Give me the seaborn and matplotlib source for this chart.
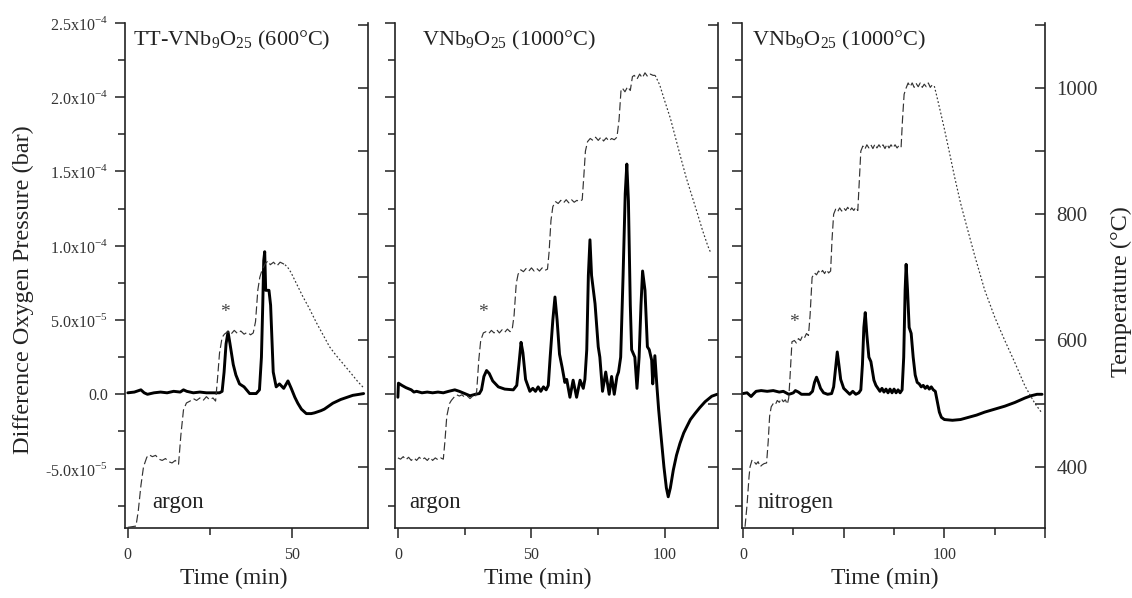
import numpy as np
import seaborn as sns
import matplotlib.pyplot as plt
from matplotlib.ticker import FixedLocator

# ---- data (pressure in units of 1e-5 bar, temperature in degC, time in min) ----
# panel 1: TT-VNb9O25 (600C), argon
t_p1 = [0, 2, 4, 5, 6, 8, 10, 12, 14, 16, 17, 18, 20, 22, 24, 26, 28, 28.8, 29.4, 30, 30.6, 31.2,
        32.2, 33, 34.1, 35.5, 37.2, 39.2, 40.2, 40.8, 41.2, 41.5, 41.8, 42.1, 43.1, 43.6, 44.4, 45.3,
        46.3, 47.6, 48.9, 49.9, 51, 51.9, 53, 54.5, 56, 57, 59, 60, 62.6, 65, 68.7, 70.7, 72]
p_p1 = [0.1, 0.15, 0.3, 0.1, 0.0, 0.1, 0.15, 0.1, 0.2, 0.15, 0.3, 0.2, 0.1, 0.15, 0.1, 0.1, 0.1, 0.2,
        1.5, 3.4, 4.2, 3.4, 2.0, 1.3, 0.7, 0.5, 0.05, 0.05, 0.3, 2.5, 6.0, 9.0, 9.6, 7.0, 7.0, 6.0,
        1.5, 0.5, 0.7, 0.4, 0.9, 0.4, -0.2, -0.6, -1.0, -1.3, -1.3, -1.25, -1.1, -1.0, -0.6, -0.35,
        -0.07, 0.0, 0.05]
t_h1 = [0, 2.5, 3.2, 4, 4.8, 5.8, 6.5, 7.5, 8.5, 9.5, 10.5, 11.5, 12.5, 13.5, 14.5, 15.5, 16.2, 17,
        17.9, 19, 20, 21, 22, 23, 24, 25, 26, 26.8, 27.4, 28, 28.8, 29.5, 30.5, 31.5, 32.5, 33.5,
        34.5, 35.5, 36.5, 37.5, 38.3, 39, 39.7, 40.3, 41, 42, 42.8, 43.5, 44.5, 45.5, 46.5, 47.3, 48]
T_h1 = [304, 306, 330, 370, 400, 415, 419, 416, 418, 412, 410, 413, 408, 406, 410, 404, 450, 490,
        501, 504, 508, 505, 509, 505, 511, 506, 509, 504, 540, 580, 605, 610, 614, 610, 616, 611,
        615, 610, 613, 609, 612, 630, 680, 700, 712, 722, 726, 720, 724, 718, 724, 722, 720]
t_c1 = [48, 48.8, 49.8, 51.5, 53.4, 55.5, 57.5, 59.5, 61.6, 63.5, 65.6, 68, 70.2, 72]
T_c1 = [720, 716, 708, 690, 670, 650, 629, 610, 590, 577, 564, 549, 535, 525]

# panel 2: VNb9O25 (1000C), argon
t_p2 = [0, 0.2, 1.5, 3, 5, 6, 7, 9, 11, 13, 15, 17, 19, 21.3, 23, 25, 27, 29, 30.5, 31.3, 32.2,
        33.2, 34.2, 35.5, 37.6, 40, 43.2, 44.5, 45.3, 46.1, 46.8, 47.8, 49.4, 50.5, 51.5, 52.5, 53.5,
        54.5, 55.5, 56.3, 57, 58, 58.8, 59.6, 60.5, 61.5, 62.5, 63.2, 64.4, 65.6, 66.9, 68.2, 69.4,
        70, 70.7, 71.3, 71.9, 72.5, 73.8, 75, 75.6, 76.6, 77.8, 79.1, 80, 81, 82, 82.6, 83.4, 84.3,
        85.1, 85.7, 86.3, 87, 87.5, 88.7, 89.5, 90.3, 91, 91.6, 92.5, 93.4, 94.1, 95, 95.4, 96.2,
        96.9, 97.6, 98.4, 99.6, 100.5, 101.2, 102, 103.1, 104.3, 105.6, 107, 108.1, 109.5, 111.2,
        113, 115, 117.5, 119.5]
p_p2 = [-0.2, 0.75, 0.6, 0.45, 0.3, 0.15, 0.2, 0.1, 0.15, 0.1, 0.15, 0.1, 0.2, 0.3, 0.2, 0.05, -0.1,
        0.0, 0.05, 0.3, 1.2, 1.6, 1.4, 0.9, 0.5, 0.35, 0.3, 0.6, 2.0, 3.5, 2.8, 1.0, 0.2, 0.4, 0.2,
        0.5, 0.2, 0.5, 0.3, 0.6, 2.5, 5.0, 6.55, 5.0, 2.7, 1.8, 0.8, 1.0, -0.2, 0.95, -0.2, 0.95,
        0.4, 1.0, 3.0, 8.0, 10.4, 8.0, 6.1, 3.2, 2.5, 0.2, 1.5, 0.0, 1.2, 0.0, 1.2, 1.5, 2.5, 8.0,
        13.5, 15.5, 13.0, 6.0, 3.0, 2.5, 0.4, 2.5, 6.0, 8.3, 7.0, 3.2, 3.0, 2.3, 0.7, 2.6, 0.7,
        -1.0, -2.6, -4.9, -6.3, -6.9, -6.3, -5.1, -4.1, -3.3, -2.6, -2.2, -1.7, -1.3, -0.9, -0.5,
        -0.13, 0.0]
t_h2 = [0, 1, 2, 3, 4, 5, 6, 7, 8, 9, 10, 11, 12, 13, 14, 15, 16, 17, 17.6, 18.3, 19.3, 20, 21, 22,
        23, 24, 25, 26, 27, 28, 29, 29.5, 30.3, 31, 32, 33, 34, 35, 36, 37, 38, 39, 40, 41, 42, 42.8,
        43.5, 44.3, 45, 46, 47, 48, 49, 50, 51, 52, 53, 54, 55, 56, 56.6, 57.3, 58, 59, 60, 61, 62,
        63, 64, 65, 66, 67, 68, 69, 69.6, 70.2, 71, 72, 73, 74, 75, 76, 77, 78, 79, 80, 81, 82, 82.8,
        83.5, 84, 85, 86, 87, 87.8, 88.5, 89.5, 90.5, 91.5, 92.5, 93.5, 94.5, 95.5, 96.3]
T_h2 = [414, 412, 416, 411, 415, 410, 414, 410, 415, 411, 414, 410, 415, 410, 414, 411, 414, 412,
        440, 480, 500, 505, 510, 514, 512, 514, 510, 512, 508, 512, 510, 520, 570, 600, 612, 614,
        611, 616, 612, 617, 612, 617, 613, 618, 614, 618, 640, 690, 705, 712, 709, 714, 710, 715,
        710, 714, 710, 715, 711, 713, 740, 790, 812, 820, 817, 822, 818, 823, 818, 823, 819, 822,
        820, 823, 860, 900, 915, 920, 917, 922, 917, 922, 916, 921, 916, 920, 918, 922, 950, 995,
        1000, 994, 1002, 996, 1018, 1020, 1014, 1022, 1016, 1024, 1018, 1022, 1020, 1020]
t_c2 = [96.3, 98, 100, 102, 104, 106, 108, 110, 112, 114, 116, 117]
T_c2 = [1020, 1005, 978, 952, 920, 888, 857, 830, 803, 775, 750, 740]

# panel 3: VNb9O25 (1000C), nitrogen
t_p3 = [0, 2, 4, 5, 6.5, 9, 12, 15, 18, 20, 22.7, 24, 25, 26, 27.5, 29, 33, 34.5, 35.5, 36.5, 37.5,
        38.5, 40, 42, 44, 45, 46, 46.8, 47.6, 48.5, 50, 51.5, 53, 54.5, 56, 57.5, 58.5, 59.3, 60,
        60.7, 61.5, 62.5, 63.5, 65, 66, 67, 68, 69, 70, 71, 72, 73, 74, 75, 76, 77, 78, 79, 79.8,
        80.5, 81, 81.7, 82.5, 83.5, 84.5, 85.5, 86.5, 87.5, 88.5, 89.5, 90.5, 91.5, 92.5, 93.5, 94.5,
        95.5, 96.5, 97.5, 98.5, 100, 104, 108, 112, 116, 120, 125, 130, 135, 140, 143, 146, 148.5]
p_p3 = [0.05, 0.1, -0.15, 0.0, 0.2, 0.25, 0.2, 0.25, 0.15, 0.2, 0.0, 0.05, 0.1, 0.25, 0.15, 0.0,
        0.0, 0.2, 0.8, 1.15, 0.8, 0.4, 0.1, 0.0, 0.05, 0.5, 1.8, 2.85, 2.0, 1.0, 0.4, 0.2, 0.0, 0.2,
        0.0, 0.1, 0.3, 2.0, 4.5, 5.5, 4.0, 2.5, 2.2, 0.95, 0.6, 0.4, 0.2, 0.4, 0.15, 0.35, 0.1,
        0.35, 0.1, 0.35, 0.1, 0.3, 0.1, 0.3, 2.5, 7.0, 8.75, 7.0, 4.5, 4.1, 2.5, 1.3, 0.8, 0.7, 0.5,
        0.6, 0.4, 0.55, 0.35, 0.5, 0.3, 0.2, -0.5, -1.2, -1.55, -1.7, -1.75, -1.7, -1.55, -1.4,
        -1.2, -1.0, -0.8, -0.55, -0.25, -0.1, 0.0, 0.0]
t_h3 = [1, 2, 3, 3.5, 4.5, 5.5, 6.5, 7.5, 8.5, 9.5, 10.5, 11.7, 12.5, 13.2, 14, 15, 16, 17, 18, 19,
        20, 21, 22, 22.7, 23.3, 24.3, 25.5, 26.5, 27.5, 28.5, 29.5, 30.5, 31.5, 32.5, 33.3, 34.3,
        35.5, 36.5, 37.5, 38.5, 39.5, 40.5, 41.5, 42.5, 43.5, 44.2, 45, 46, 47, 48, 49, 50, 51, 52,
        53, 54, 55, 56, 57, 57.7, 58.5, 59.5, 60.5, 61.5, 62.5, 63.5, 64.5, 65.5, 66.5, 67.5, 68.5,
        69.5, 70.5, 71.5, 72.5, 73.5, 74.5, 75.5, 76.5, 77.5, 78.5, 79.2, 80, 81, 82, 83, 84, 85,
        86, 87, 88, 89, 90, 91, 92, 93, 94, 95]
T_h3 = [305, 340, 385, 400, 411, 408, 404, 408, 400, 403, 405, 406, 440, 480, 495, 500, 498, 505,
        502, 508, 503, 506, 499, 509, 540, 598, 600, 596, 603, 600, 607, 604, 611, 608, 640, 700,
        707, 704, 710, 706, 711, 706, 712, 707, 710, 760, 800, 808, 804, 810, 805, 810, 806, 811,
        805, 810, 806, 811, 806, 850, 900, 908, 903, 910, 905, 910, 904, 911, 905, 910, 905, 910,
        904, 911, 905, 910, 905, 910, 905, 909, 906, 950, 990, 1000, 1008, 1002, 1008, 1001, 1007,
        1002, 1008, 1001, 1006, 1002, 1008, 1001, 1005, 1003]
t_c3 = [95, 96, 98, 100, 102.5, 105, 108, 111, 115, 120, 125, 130, 135, 140, 145, 148]
T_c3 = [1003, 990, 963, 935, 898, 860, 818, 782, 735, 680, 637, 600, 565, 528, 500, 487]

titles = ['TT-VNb$_\\mathregular{9}$O$_\\mathregular{25}$ (600°C)',
          'VNb$_\\mathregular{9}$O$_\\mathregular{25}$ (1000°C)',
          'VNb$_\\mathregular{9}$O$_\\mathregular{25}$ (1000°C)']
gases = ['argon', 'argon', 'nitrogen']
star_pos = [(29.6, 5.5), (31.8, 5.5), (25.5, 4.85)]

p_ticks = [-5, 0, 5, 10, 15, 20, 25]
p_ticklabels = ['-5.0x10$^{\\mathregular{-5}}$', '0.0', '5.0x10$^{\\mathregular{-5}}$',
                '1.0x10$^{\\mathregular{-4}}$', '1.5x10$^{\\mathregular{-4}}$',
                '2.0x10$^{\\mathregular{-4}}$', '2.5x10$^{\\mathregular{-4}}$']
T_ticks = [400, 600, 800, 1000]

sns.set_style('ticks')
plt.rcParams['font.family'] = ['Liberation Serif', 'DejaVu Serif']
plt.rcParams['mathtext.fontset'] = 'custom'
plt.rcParams['mathtext.rm'] = 'Liberation Serif'

fig = plt.figure(figsize=(11.32, 5.98), dpi=100)

panels = [
    (t_p1, p_p1, t_h1, T_h1, t_c1, T_c1, (-1, 73.2), [0, 50], [25], [0.110, 0.2147], 0.115, 0.033),
    (t_p2, p_p2, t_h2, T_h2, t_c2, T_c2, (-1.1, 119.8), [0, 50, 100], [25, 75], [0.3489, 0.2853], 0.043, 0.084),
    (t_p3, p_p3, t_h3, T_h3, t_c3, T_c3, (-0.5, 150), [0, 50, 100, 150], [25, 75, 125], [0.6555, 0.2677], 0.05, 0.033),
]

for i, (tp, pp, th, Th, tc, Tc, xl, xmaj, xmin, pos, gx, tx) in enumerate(panels):
    ax = fig.add_axes([pos[0], 0.1171, pos[1], 0.8445])
    ax2 = ax.twinx()

    sns.lineplot(x=tp, y=np.array(pp) * 1e-5, ax=ax, color='black', linewidth=2.1,
                 estimator=None, sort=False)
    sns.lineplot(x=th, y=Th, ax=ax2, color='#333333', linewidth=0.85,
                 linestyle=(0, (7, 3)), estimator=None, sort=False)
    sns.lineplot(x=tc, y=Tc, ax=ax2, color='#333333', linewidth=0.85,
                 linestyle=(0, (1.5, 1.8)), estimator=None, sort=False)

    ax.set_xlim(*xl)
    ax.set_ylim(-9e-5, 2.5e-4)
    ax2.set_ylim(303, 1103)

    # pressure axis
    ax.yaxis.set_major_locator(FixedLocator(np.array(p_ticks) * 1e-5))
    ax.yaxis.set_minor_locator(FixedLocator(np.arange(-7.5, 25, 5) * 1e-5))
    ax.xaxis.set_major_locator(FixedLocator(xmaj))
    ax.xaxis.set_minor_locator(FixedLocator(xmin))
    ax.tick_params(axis='both', which='major', direction='out', length=7, width=1.1,
                   colors='#222222')
    ax.tick_params(axis='both', which='minor', direction='out', length=5, width=1.1,
                   colors='#222222')
    ax.tick_params(axis='x', labelsize=11.5, pad=7, labelcolor='#333333')
    ax.tick_params(axis='y', labelsize=11.5, pad=5, labelcolor='#333333')
    if i == 0:
        ax.set_yticklabels(p_ticklabels)
    else:
        ax.tick_params(axis='y', labelleft=False)
    xlabels = [str(v) if v in (0, 50, 100) and not (i == 2 and v == 50) else '' for v in xmaj]
    ax.set_xticklabels(xlabels)
    ax.set_xlabel('')
    ax.set_ylabel('')

    # temperature axis
    if i == 2:
        ax2.yaxis.set_major_locator(FixedLocator(T_ticks))
        ax2.yaxis.set_minor_locator(FixedLocator([500, 700, 900, 1100]))
    else:
        ax2.yaxis.set_major_locator(FixedLocator([400, 500, 600, 700, 800, 900, 1000, 1100]))
    ax2.tick_params(axis='y', which='both', direction='in', length=7, width=1.1,
                    colors='#222222', labelsize=15, pad=8, labelcolor='#333333')
    if i != 2:
        ax2.tick_params(axis='y', labelright=False)
    ax2.set_ylabel('')

    for s in ['top', 'right']:
        ax.spines[s].set_visible(False)
    for s in ['top', 'left', 'bottom']:
        ax2.spines[s].set_visible(False)
    for a in (ax, ax2):
        for s in a.spines.values():
            s.set_linewidth(1.2)
            s.set_color('#222222')

    ax.text(tx, 0.966, titles[i], transform=ax.transAxes, fontsize=16, va='center',
            ha='left', color='#222222')
    ax.text(gx, 0.05, gases[i], transform=ax.transAxes, fontsize=16.5, va='center',
            ha='left', color='#222222')
    ax.text(star_pos[i][0], star_pos[i][1] * 1e-5, '*', fontsize=14, ha='center',
            va='center', color='#444444')

fig.text(23 / 1132, 0.515, 'Difference Oxygen Pressure (bar)', rotation=90, fontsize=17.5,
         ha='center', va='center', color='#222222')
fig.text(1121 / 1132, 0.512, 'Temperature (°C)', rotation=90, fontsize=17.5,
         ha='center', va='center', color='#222222')
for xc in [234, 538, 885]:
    fig.text(xc / 1132, 0.033, 'Time (min)', fontsize=17, ha='center', va='center',
             color='#222222')

fig.savefig('out.png', dpi=100)
